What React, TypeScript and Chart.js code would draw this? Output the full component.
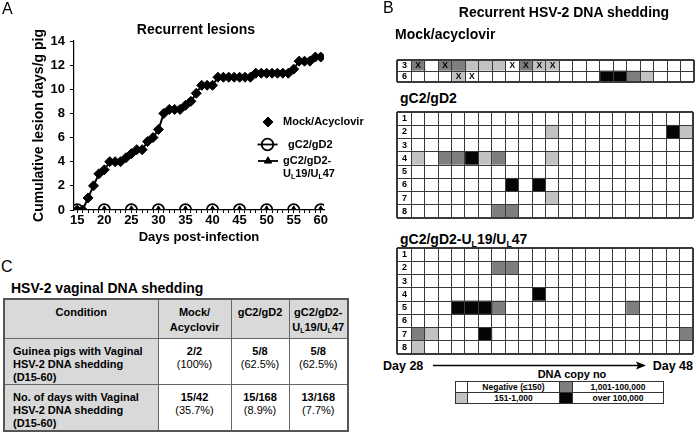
import React, { useEffect, useRef } from 'react';
import { Chart, registerables } from 'chart.js';
import { drawPoint } from 'chart.js/helpers';

Chart.register(...registerables);

const FONT = '"Liberation Sans", Arial, Helvetica, sans-serif';
Chart.defaults.font.family = FONT;
Chart.defaults.color = '#000';

// ---------------- Panel A data ----------------
const lesionDays = [15, 16, 17, 18, 19, 20, 21, 22, 23, 24, 25, 26, 27, 28, 29, 30, 31, 32, 33, 34, 35, 36, 37, 38, 39, 40, 41, 42, 43, 44, 45, 46, 47, 48, 49, 50, 51, 52, 53, 54, 55, 56, 57, 58, 59, 60];
const mockLesions = [0, 0, 1, 2, 3, 3.33, 4, 4, 4, 4.33, 4.67, 5, 5, 5.67, 6, 6.67, 8, 8.33, 8.33, 8.33, 8.67, 9, 9.67, 10.33, 10.33, 10.33, 11, 11, 11, 11, 11, 11, 11, 11.33, 11.33, 11.33, 11.33, 11.33, 11.33, 11.33, 11.67, 12.33, 12.33, 12.33, 12.67, 12.67];
const vaccineDays = [15, 20, 25, 30, 35, 40, 45, 50, 55, 60];
const gC2gD2Lesions = [0, 0, 0, 0, 0, 0, 0, 0, 0, 0];
const ulLesions = [0, 0, 0, 0, 0, 0, 0, 0, 0, 0];
const seriesNames = ['Mock/Acyclovir', 'gC2/gD2', 'gC2/gD2-UL19/UL47'];
const xTickValues = lesionDays;
const xLabelEvery = 5;

// ---------------- Panel B data ----------------
// 0 = Negative (<=150), 1 = 151-1,000, 2 = 1,001-100,000, 3 = over 100,000
const shedDays = [28, 29, 30, 31, 32, 33, 34, 35, 36, 37, 38, 39, 40, 41, 42, 43, 44, 45, 46, 47, 48];
const mockRows = ['3', '6'];
const mockShedding = [
  [2, 0, 2, 2, 1, 1, 1, 0, 2, 1, 1, 0, 0, 0, 0, 0, 0, 0, 0, 0, 0],
  [0, 0, 0, 1, 0, 0, 0, 0, 0, 0, 0, 0, 0, 0, 3, 3, 2, 1, 0, 0, 0],
];
const mockXMarks = [[0, 0], [0, 2], [0, 7], [0, 8], [0, 9], [0, 10], [1, 3], [1, 4]];
const gdRows = ['1', '2', '3', '4', '5', '6', '7', '8'];
const gdShedding = [
  [0, 0, 0, 0, 0, 0, 0, 0, 0, 0, 0, 0, 0, 0, 0, 0, 0, 0, 0, 0, 0],
  [0, 0, 0, 0, 0, 0, 0, 0, 0, 0, 1, 0, 0, 0, 0, 0, 0, 0, 0, 3, 1],
  [0, 0, 0, 0, 0, 0, 0, 0, 0, 0, 0, 0, 0, 0, 0, 0, 0, 0, 0, 0, 0],
  [1, 0, 2, 2, 3, 1, 2, 0, 0, 0, 1, 0, 0, 0, 0, 0, 0, 0, 0, 0, 0],
  [0, 0, 0, 0, 0, 0, 0, 0, 0, 0, 0, 0, 0, 0, 0, 0, 0, 0, 0, 0, 0],
  [0, 0, 0, 0, 0, 0, 0, 3, 0, 3, 0, 0, 0, 0, 0, 0, 0, 0, 0, 0, 0],
  [0, 0, 0, 0, 0, 0, 0, 0, 0, 0, 1, 0, 0, 0, 0, 0, 0, 0, 0, 0, 0],
  [0, 0, 0, 0, 0, 0, 2, 2, 0, 0, 0, 0, 0, 0, 0, 0, 0, 0, 0, 0, 0],
];
const ulRows = ['1', '2', '3', '4', '5', '6', '7', '8'];
const ulShedding = [
  [0, 0, 0, 0, 0, 0, 0, 0, 0, 0, 0, 0, 0, 0, 0, 0, 0, 0, 0, 0, 0],
  [0, 0, 0, 0, 0, 0, 2, 2, 0, 0, 0, 0, 0, 0, 0, 0, 0, 0, 0, 0, 0],
  [0, 0, 0, 0, 0, 0, 0, 0, 0, 0, 0, 0, 0, 0, 0, 0, 0, 0, 0, 0, 0],
  [0, 0, 0, 0, 0, 0, 0, 0, 0, 3, 0, 0, 0, 0, 0, 0, 0, 0, 0, 0, 0],
  [0, 0, 0, 3, 3, 3, 2, 0, 0, 0, 0, 0, 0, 0, 0, 0, 2, 0, 0, 0, 0],
  [0, 0, 0, 0, 0, 0, 0, 0, 0, 0, 0, 0, 0, 0, 0, 0, 0, 0, 0, 0, 0],
  [2, 1, 0, 0, 0, 3, 0, 0, 0, 0, 0, 0, 0, 0, 0, 0, 0, 0, 0, 0, 2],
  [1, 0, 0, 0, 0, 0, 0, 0, 0, 0, 0, 0, 0, 0, 0, 0, 0, 0, 0, 0, 0],
];
const copyLegend = ['Negative (≤150)', '151-1,000', '1,001-100,000', 'over 100,000'];

// ---------------- Panel C data ----------------
const tableHeader = ['Condition', 'Mock/\nAcyclovir', 'gC2/gD2', 'gC2/gD2-\nUL19/UL47'];
const tableRowLabels = ['Guinea pigs with Vaginal\nHSV-2 DNA shedding\n(D15-60)', 'No. of days with Vaginal\nHSV-2 DNA shedding\n(D15-60)'];
const tableCounts = [['2/2', '5/8', '5/8'], ['15/42', '15/168', '13/168']];
const tablePercents = [['(100%)', '(62.5%)', '(62.5%)'], ['(35.7%)', '(8.9%)', '(7.7%)']];

// ---------------- styles ----------------
const SHADES = ['#ffffff', '#c2c2c2', '#7e7e7e', '#050505'];
const GRID = '#3a3a3a';
const LABEL_COL = 1.07;

function drawRich(ctx: CanvasRenderingContext2D, text: string, x: number, y: number, size: number) {
  const parts: { t: string; sub: boolean }[] = [];
  const re = /U(L)/g;
  let last = 0;
  let m: RegExpExecArray | null;
  while ((m = re.exec(text))) {
    parts.push({ t: text.slice(last, m.index + 1), sub: false });
    parts.push({ t: 'L', sub: true });
    last = m.index + 2;
  }
  parts.push({ t: text.slice(last), sub: false });
  let cx = x;
  parts.forEach((p) => {
    const fs = p.sub ? Math.round(size * 0.62) : size;
    ctx.font = `bold ${fs}px ${FONT}`;
    ctx.fillText(p.t, cx, p.sub ? y + size * 0.28 : y);
    cx += ctx.measureText(p.t).width;
  });
}

const lesionLegend = {
  id: 'lesionLegend',
  afterDraw(chart: any) {
    const ctx: CanvasRenderingContext2D = chart.ctx;
    const ds = chart.data.datasets;
    const rows = [
      { i: 0, mx: 268, y: 122, tx: 283, line: false },
      { i: 1, mx: 267.5, y: 144.5, tx: 288, line: true },
      { i: 2, mx: 268, y: 161, tx: 283, line: true },
    ];
    ctx.save();
    rows.forEach((r) => {
      const d = ds[r.i];
      if (r.line) {
        ctx.beginPath();
        ctx.moveTo(r.mx - 10, r.y);
        ctx.lineTo(r.mx + 10, r.y);
        ctx.lineWidth = 1.8;
        ctx.strokeStyle = '#000';
        ctx.stroke();
      }
      ctx.fillStyle = d.pointBackgroundColor;
      ctx.strokeStyle = d.pointBorderColor;
      ctx.lineWidth = d.pointBorderWidth;
      drawPoint(ctx, { pointStyle: d.pointStyle, radius: d.pointRadius, rotation: 0, borderWidth: d.pointBorderWidth } as any, r.mx, r.y);
    });
    ctx.fillStyle = '#000';
    ctx.textBaseline = 'middle';
    ctx.textAlign = 'left';
    ctx.font = `bold 11px ${FONT}`;
    ctx.fillText(ds[0].label, rows[0].tx, rows[0].y);
    ctx.fillText(ds[1].label, rows[1].tx, rows[1].y);
    const third: string = ds[2].label;
    const cut = third.indexOf('-') + 1;
    ctx.fillText(third.slice(0, cut), rows[2].tx, rows[2].y);
    drawRich(ctx, third.slice(cut), rows[2].tx, rows[2].y + 12.5, 11);
    ctx.restore();
  },
};

function LesionChart() {
  const ref = useRef<HTMLCanvasElement>(null);
  useEffect(() => {
    const pts = (xs: number[], ys: number[]) => xs.map((x, i) => ({ x, y: ys[i] }));
    const chart = new Chart(ref.current!, {
      type: 'line',
      data: {
        datasets: [
          { label: seriesNames[0], data: pts(lesionDays, mockLesions), borderColor: '#000', borderWidth: 2, pointStyle: 'rectRot', pointRadius: 5, pointBackgroundColor: '#000', pointBorderColor: '#000', pointBorderWidth: 1, order: 0 },
          { label: seriesNames[1], data: pts(vaccineDays, gC2gD2Lesions), borderColor: '#000', borderWidth: 1.8, pointStyle: 'circle', pointRadius: 5.8, pointBackgroundColor: 'rgba(255,255,255,0)', pointBorderColor: '#000', pointBorderWidth: 1.8, order: 2 },
          { label: seriesNames[2], data: pts(vaccineDays, ulLesions), borderColor: '#000', borderWidth: 1.8, pointStyle: 'triangle', pointRadius: 4.2, pointBackgroundColor: '#000', pointBorderColor: '#000', pointBorderWidth: 1, order: 1 },
        ] as any,
      },
      options: {
        animation: false,
        responsive: false,
        layout: { padding: { left: 0, right: 48, top: 41, bottom: 0 } },
        scales: {
          x: {
            type: 'linear',
            min: 14.4,
            max: 60.6,
            afterBuildTicks: (s: any) => { s.ticks = xTickValues.map((v) => ({ value: v })); },
            afterFit: (s: any) => { s.height = 40; },
            ticks: { autoSkip: false, maxRotation: 0, padding: 0, font: { size: 13, weight: 'bold' }, color: '#000', callback: (v: any) => (v % xLabelEvery === 0 ? String(v) : '') },
            grid: { drawOnChartArea: false, tickLength: 3, color: '#000', lineWidth: 1 },
            border: { color: '#000', width: 1.2 },
            title: { display: true, text: 'Days post-infection', font: { size: 13, weight: 'bold' }, color: '#000', padding: { top: 0, bottom: 5 } },
          },
          y: {
            min: 0,
            max: 14,
            afterFit: (s: any) => { s.width = 74; },
            ticks: { stepSize: 2, padding: 5, font: { size: 13, weight: 'bold' }, color: '#000' },
            grid: { drawOnChartArea: false, tickLength: 4, color: '#000', lineWidth: 1 },
            border: { color: '#000', width: 1.2 },
            title: { display: true, text: 'Cumulative lesion days/g pig', font: { size: 14, weight: 'bold' }, color: '#000', padding: { top: 31, bottom: 0 } },
          },
        },
        plugins: { legend: { display: false }, tooltip: { enabled: false } },
      } as any,
      plugins: [lesionLegend],
    });
    return () => chart.destroy();
  }, []);
  return <canvas ref={ref} width={372} height={250} style={{ position: 'absolute', left: 0, top: 0 }} />;
}

const cellMarks = {
  id: 'cellMarks',
  afterDraw(chart: any, _args: any, opts: any) {
    const marks: number[][] = opts.marks || [];
    const { ctx } = chart;
    const xs = chart.scales.x;
    const ys = chart.scales.y;
    ctx.save();
    ctx.font = `bold 8.5px ${FONT}`;
    ctx.textAlign = 'center';
    ctx.textBaseline = 'middle';
    ctx.fillStyle = '#000';
    marks.forEach(([r, c]) => ctx.fillText('X', xs.getPixelForValue(LABEL_COL + c + 0.5), ys.getPixelForValue(r) + 0.5));
    ctx.restore();
  },
};

function Heatmap(props: { left: number; top: number; width: number; height: number; rows: string[]; cells: number[][]; marks?: number[][]; pad: any }) {
  const ref = useRef<HTMLCanvasElement>(null);
  useEffect(() => {
    const { rows, cells, marks, pad } = props;
    const common = { categoryPercentage: 1, barPercentage: 1, borderWidth: 0 };
    const datasets: any[] = [{ label: 'row', data: rows.map(() => LABEL_COL), backgroundColor: '#ffffff', ...common }];
    shedDays.forEach((d, j) => {
      datasets.push({ label: 'Day ' + d, data: rows.map(() => 1), backgroundColor: (c: any) => SHADES[cells[c.dataIndex][j]], ...common });
    });
    const gridTicks = [0, ...shedDays.map((_, i) => LABEL_COL + i), LABEL_COL + shedDays.length];
    const noPad = (s: any) => { s.paddingTop = 0; s.paddingBottom = 0; s.paddingLeft = 0; s.paddingRight = 0; };
    const edgeX = (c: any) => (c.index === 0 || c.index === gridTicks.length - 1 ? 2 : 1);
    const edgeY = (c: any) => (c.index === undefined || c.index === 0 ? 2 : 1);
    const chart = new Chart(ref.current!, {
      type: 'bar',
      data: { labels: rows, datasets },
      options: {
        animation: false,
        responsive: false,
        indexAxis: 'y',
        layout: { padding: pad },
        scales: {
          x: {
            type: 'linear', stacked: true, min: 0, max: LABEL_COL + shedDays.length,
            afterBuildTicks: (s: any) => { s.ticks = gridTicks.map((v) => ({ value: v })); },
            afterFit: (s: any) => { s.height = 0; noPad(s); },
            ticks: { display: false },
            grid: { color: GRID, lineWidth: edgeX, drawTicks: false, z: 1 },
            border: { display: false },
          },
          y: {
            type: 'category', stacked: true, offset: true,
            afterFit: (s: any) => { s.width = 0; noPad(s); },
            grid: { offset: true, color: GRID, lineWidth: edgeY, drawTicks: false, z: 1 },
            border: { display: false },
            ticks: { mirror: true, autoSkip: false, padding: 5, z: 2, font: { size: 9, weight: 'bold' }, color: '#000' },
          },
        },
        plugins: { legend: { display: false }, tooltip: { enabled: false }, cellMarks: { marks: marks || [] } },
      } as any,
      plugins: [cellMarks],
    });
    return () => chart.destroy();
  }, []);
  return <canvas ref={ref} width={props.width} height={props.height} style={{ position: 'absolute', left: props.left, top: props.top }} />;
}

function Sub({ children }: { children: any }) {
  return <span style={{ fontSize: '0.62em', position: 'relative', top: '0.3em', lineHeight: 0 }}>{children}</span>;
}

function withSub(text: string) {
  const out: any[] = [];
  const pieces = text.split('UL');
  pieces.forEach((p, i) => {
    if (i > 0) out.push(<React.Fragment key={'u' + i}>U<Sub>L</Sub></React.Fragment>);
    out.push(<React.Fragment key={'p' + i}>{p}</React.Fragment>);
  });
  return out;
}

function T(props: { x: number; y: number; size?: number; bold?: boolean; align?: 'left' | 'center' | 'right'; children: any }) {
  const size = props.size ?? 14;
  const style: React.CSSProperties = {
    position: 'absolute', top: props.y - size / 2, fontSize: size, lineHeight: `${size}px`,
    fontWeight: props.bold === false ? 400 : 700, whiteSpace: 'nowrap', color: '#000',
  };
  const align = props.align ?? 'left';
  if (align === 'left') style.left = props.x;
  else if (align === 'center') { style.left = props.x; style.transform = 'translateX(-50%)'; }
  else style.right = 696 - props.x;
  return <div style={style}>{props.children}</div>;
}

function multiline(text: string, sub = false) {
  return text.split('\n').map((l, i) => <div key={i}>{sub ? withSub(l) : l}</div>);
}

function CopyLegend() {
  const cell: React.CSSProperties = { border: '1px solid #333', padding: 0, textAlign: 'center', height: 10, lineHeight: '10px' };
  return (
    <table style={{ position: 'absolute', left: 455, top: 381, width: 208, borderCollapse: 'collapse', tableLayout: 'fixed', fontSize: 8.5, fontWeight: 700, border: '1.5px solid #222' }}>
      <colgroup><col style={{ width: 12 }} /><col style={{ width: 92 }} /><col style={{ width: 13 }} /><col style={{ width: 91 }} /></colgroup>
      <tbody>
        <tr>
          <td style={{ ...cell, background: SHADES[0] }} />
          <td style={cell}>{copyLegend[0]}</td>
          <td style={{ ...cell, background: SHADES[2] }} />
          <td style={cell}>{copyLegend[2]}</td>
        </tr>
        <tr>
          <td style={{ ...cell, background: SHADES[1] }} />
          <td style={cell}>{copyLegend[1]}</td>
          <td style={{ ...cell, background: SHADES[3] }} />
          <td style={cell}>{copyLegend[3]}</td>
        </tr>
      </tbody>
    </table>
  );
}

function SheddingTable() {
  const base: React.CSSProperties = { border: '1px solid #666', verticalAlign: 'top', padding: 0 };
  return (
    <table style={{ position: 'absolute', left: 3, top: 298, width: 344, borderCollapse: 'collapse', tableLayout: 'fixed', fontSize: 11, fontWeight: 700, border: '2px solid #555', color: '#000' }}>
      <colgroup><col style={{ width: 154 }} /><col style={{ width: 73 }} /><col style={{ width: 58 }} /><col style={{ width: 59 }} /></colgroup>
      <tbody>
        <tr style={{ height: 39 }}>
          {tableHeader.map((h, i) => (
            <td key={i} style={{ ...base, background: '#d9d9d9', textAlign: 'center', paddingTop: 5, lineHeight: '15px' }}>{multiline(h, true)}</td>
          ))}
        </tr>
        {tableRowLabels.map((lab, r) => (
          <tr key={r} style={{ height: 45 }}>
            <td style={{ ...base, background: '#d9d9d9', paddingLeft: 8, paddingTop: 6, lineHeight: '13px' }}>{multiline(lab)}</td>
            {tableCounts[r].map((c, j) => (
              <td key={j} style={{ ...base, background: '#fff', textAlign: 'center', paddingTop: 6, lineHeight: '13px' }}>
                <div>{c}</div>
                <div style={{ fontWeight: 400 }}>{tablePercents[r][j]}</div>
              </td>
            ))}
          </tr>
        ))}
      </tbody>
    </table>
  );
}

export default function App() {
  return (
    <div style={{ position: 'fixed', left: 0, top: 0, width: 696, height: 433, overflow: 'hidden', background: '#fff', fontFamily: FONT }}>
      <LesionChart />
      <T x={2} y={9} size={16} bold={false}>A</T>
      <T x={196} y={29} size={14} align="center">Recurrent lesions</T>

      <T x={383} y={8} size={16} bold={false}>B</T>
      <T x={564} y={12} size={14} align="center">Recurrent HSV-2 DNA shedding</T>
      <T x={395} y={34} size={14}>Mock/acyclovir</T>
      <Heatmap left={395} top={58} width={301} height={27} rows={mockRows} cells={mockShedding} marks={mockXMarks} pad={{ left: 2, right: 2, top: 2, bottom: 3 }} />
      <T x={400} y={98} size={14}>gC2/gD2</T>
      <Heatmap left={395} top={110} width={301} height={111} rows={gdRows} cells={gdShedding} pad={{ left: 2, right: 3, top: 2, bottom: 3 }} />
      <T x={400} y={239} size={14}>{withSub('gC2/gD2-UL19/UL47')}</T>
      <Heatmap left={395} top={246} width={301} height={111} rows={ulRows} cells={ulShedding} pad={{ left: 2, right: 3, top: 2, bottom: 3 }} />
      <T x={383} y={366} size={12.5}>{'Day ' + shedDays[0]}</T>
      <svg style={{ position: 'absolute', left: 430, top: 360, width: 220, height: 12 }}>
        <line x1={3} y1={5.5} x2={210} y2={5.5} stroke="#000" strokeWidth={1.5} />
        <polygon points="216,5.5 206,1.5 208,5.5 206,9.5" fill="#000" />
      </svg>
      <T x={693} y={366} size={12.5} align="right">{'Day ' + shedDays[shedDays.length - 1]}</T>
      <T x={572} y={374} size={11} align="center">DNA copy no</T>
      <CopyLegend />

      <T x={1} y={267} size={16} bold={false}>C</T>
      <T x={11} y={288} size={14}>HSV-2 vaginal DNA shedding</T>
      <SheddingTable />
    </div>
  );
}
